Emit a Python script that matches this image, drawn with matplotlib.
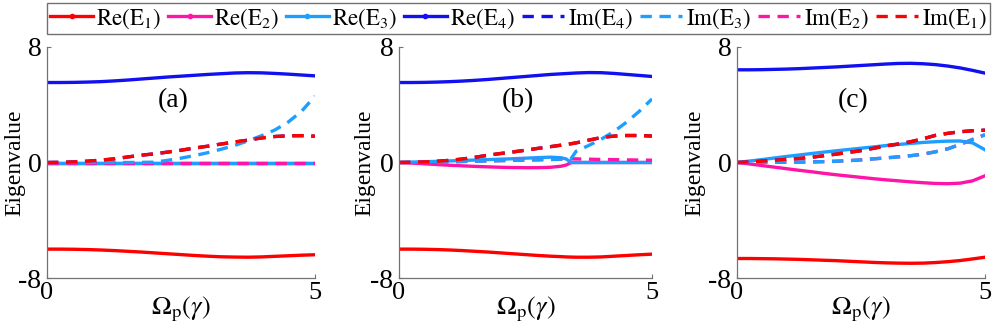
import matplotlib
matplotlib.use('Agg')
import matplotlib.pyplot as plt
from matplotlib.lines import Line2D

plt.rc('font', family='Liberation Serif')
plt.rc('mathtext', fontset='stix')

# ---- data ----
# panel (a)
x_a = [0, 0.25, 0.5, 0.75, 1, 1.25, 1.5, 1.75, 2, 2.25, 2.5, 2.75, 3, 3.25, 3.5, 3.75, 4, 4.25, 4.5, 4.75, 5]
re1_a = [-6.00, -6.00, -6.01, -6.03, -6.06, -6.10, -6.15, -6.20, -6.26, -6.32, -6.38, -6.44, -6.49, -6.53, -6.55, -6.56, -6.54, -6.50, -6.46, -6.42, -6.39]
re2_a = [0.0] * 21
re3_a = [0.0] * 21
re4_a = [5.54, 5.54, 5.55, 5.57, 5.60, 5.65, 5.71, 5.78, 5.85, 5.92, 5.98, 6.04, 6.10, 6.15, 6.20, 6.22, 6.21, 6.17, 6.12, 6.06, 6.00]
im1_a = [0, 0.01, 0.04, 0.09, 0.16, 0.25, 0.38, 0.50, 0.60, 0.72, 0.85, 1.00, 1.13, 1.28, 1.42, 1.55, 1.70, 1.80, 1.85, 1.86, 1.82]
im2_a = [0.0] * 21
im3_a = [0, 0, 0, 0, 0, 0, 0, 0.01, 0.02, 0.15, 0.30, 0.48, 0.68, 0.92, 1.18, 1.50, 1.85, 2.25, 2.80, 3.55, 4.60]
im4_a = im1_a

# panel (b)
x_b = [0, 0.25, 0.5, 0.75, 1, 1.25, 1.5, 1.75, 2, 2.25, 2.5, 2.75, 3, 3.2, 3.3, 3.4, 3.5, 3.75, 4, 4.25, 4.5, 4.75, 5]
re1_b = [-6.00, -6.00, -6.01, -6.03, -6.06, -6.10, -6.15, -6.20, -6.26, -6.32, -6.38, -6.44, -6.49, -6.52, -6.54, -6.55, -6.56, -6.56, -6.54, -6.49, -6.44, -6.39, -6.35]
re2_b = [0, -0.04, -0.09, -0.14, -0.19, -0.23, -0.27, -0.30, -0.33, -0.35, -0.36, -0.36, -0.33, -0.26, -0.18, -0.01, 0, 0, 0, 0, 0, 0, 0]
re3_b = [0, 0.03, 0.05, 0.08, 0.11, 0.14, 0.17, 0.20, 0.23, 0.26, 0.30, 0.34, 0.37, 0.33, 0.25, 0.01, 0, 0, 0, 0, 0, 0, 0]
re4_b = [5.54, 5.54, 5.55, 5.57, 5.60, 5.64, 5.69, 5.75, 5.82, 5.89, 5.96, 6.03, 6.10, 6.14, 6.16, 6.18, 6.20, 6.23, 6.22, 6.17, 6.10, 6.03, 5.96]
im1_b = [0, 0.01, 0.04, 0.08, 0.15, 0.24, 0.36, 0.50, 0.62, 0.73, 0.85, 0.98, 1.10, 1.20, 1.26, 1.30, 1.36, 1.55, 1.73, 1.83, 1.87, 1.87, 1.83]
im2_b = [0, 0.01, 0.02, 0.04, 0.05, 0.07, 0.09, 0.11, 0.13, 0.15, 0.17, 0.19, 0.21, 0.23, 0.24, 0.26, 0.25, 0.23, 0.21, 0.20, 0.18, 0.17, 0.16]
im3_b = [0, 0.01, 0.02, 0.04, 0.05, 0.07, 0.09, 0.11, 0.13, 0.15, 0.17, 0.19, 0.21, 0.23, 0.24, 0.26, 0.78, 1.18, 1.62, 2.15, 2.80, 3.55, 4.40]
im4_b = im1_b

# panel (c)
x_c = [0, 0.25, 0.5, 0.75, 1, 1.25, 1.5, 1.75, 2, 2.25, 2.5, 2.75, 3, 3.25, 3.5, 3.75, 4, 4.25, 4.5, 4.75, 5]
re1_c = [-6.65, -6.65, -6.66, -6.67, -6.69, -6.71, -6.74, -6.77, -6.80, -6.84, -6.88, -6.92, -6.95, -6.97, -6.98, -6.97, -6.93, -6.87, -6.79, -6.68, -6.56]
re2_c = [0, -0.10, -0.21, -0.32, -0.43, -0.54, -0.64, -0.75, -0.85, -0.94, -1.03, -1.12, -1.20, -1.27, -1.34, -1.40, -1.45, -1.47, -1.43, -1.27, -0.92]
re3_c = [0, 0.10, 0.20, 0.31, 0.42, 0.52, 0.62, 0.72, 0.81, 0.90, 0.99, 1.08, 1.17, 1.25, 1.32, 1.39, 1.44, 1.48, 1.49, 1.36, 0.88]
re4_c = [6.42, 6.42, 6.43, 6.45, 6.47, 6.50, 6.54, 6.58, 6.62, 6.67, 6.72, 6.77, 6.82, 6.86, 6.87, 6.84, 6.78, 6.68, 6.55, 6.38, 6.19]
im1_c = [0, 0.04, 0.09, 0.15, 0.22, 0.28, 0.36, 0.47, 0.58, 0.70, 0.82, 0.98, 1.15, 1.28, 1.44, 1.64, 1.88, 2.02, 2.13, 2.20, 2.24]
im3_c = [0, 0, 0.01, 0.01, 0.02, 0.03, 0.04, 0.06, 0.09, 0.13, 0.18, 0.25, 0.32, 0.39, 0.47, 0.58, 0.74, 0.95, 1.25, 1.60, 1.92]
im2_c = im3_c
im4_c = im1_c

panel_tags = ['(a)', '(b)', '(c)']
labels = [r'$\mathrm{Re(E_1)}$', r'$\mathrm{Re(E_2)}$', r'$\mathrm{Re(E_3)}$', r'$\mathrm{Re(E_4)}$',
          r'$\mathrm{Im(E_4)}$', r'$\mathrm{Im(E_3)}$', r'$\mathrm{Im(E_2)}$', r'$\mathrm{Im(E_1)}$']

c1 = '#FF0000'
c2 = '#FF14A8'
c3 = '#1E9EFF'
c4 = '#1010F0'
lw = 2.4
dash = (0, (3.4, 2.3))

panels = [
    (x_a, re1_a, re2_a, re3_a, re4_a, im1_a, im2_a, im3_a, im4_a),
    (x_b, re1_b, re2_b, re3_b, re4_b, im1_b, im2_b, im3_b, im4_b),
    (x_c, re1_c, re2_c, re3_c, re4_c, im1_c, im2_c, im3_c, im4_c),
]

W, H = 997, 328
fig = plt.figure(figsize=(W / 100, H / 100), dpi=100)

# axes boxes in pixels: left, right ; shared top/bottom
boxes = [(47, 315), (399, 652), (737, 985)]
top_px, bot_px = 47, 278
ylab_x = [-0.082, -0.095, -0.128]

for i, (x, r1, r2, r3, r4, i1, i2, i3, i4) in enumerate(panels):
    l, r = boxes[i]
    ax = fig.add_axes([l / W, 1 - bot_px / H, (r - l) / W, (bot_px - top_px) / H])
    ax.plot(x, r1, color=c1, lw=lw)
    ax.plot(x, r2, color=c2, lw=lw)
    ax.plot(x, r3, color=c3, lw=lw)
    ax.plot(x, r4, color=c4, lw=lw)
    ax.plot(x, i4, color=c4, lw=lw, ls=dash)
    ax.plot(x, i2, color=c2, lw=lw, ls=dash)
    ax.plot(x, i3, color=c3, lw=lw, ls=dash)
    ax.plot(x, i1, color=c1, lw=lw, ls=dash)

    ax.set_xlim(0, 5)
    ax.set_ylim(-8, 8)
    ax.set_xticks([0, 5])
    ax.set_yticks([-8, 0, 8])
    ax.set_yticklabels(['-8', '0', '8'])
    for s in ['top', 'right']:
        ax.spines[s].set_visible(False)
    for s in ['left', 'bottom']:
        ax.spines[s].set_color('0.45')
        ax.spines[s].set_linewidth(0.9)
    ax.tick_params(direction='in', length=3, width=0.8, color='0.45', labelsize=20)
    ax.tick_params(axis='x', pad=3, labelsize=19)
    ax.tick_params(axis='y', pad=4)
    ax.set_ylabel('Eigenvalue', fontsize=17)
    ax.yaxis.set_label_coords(ylab_x[i], 0.5)
    ax.set_xlabel(r'$\Omega_{\mathrm{p}}(\gamma)$', fontsize=19)
    ax.xaxis.set_label_coords(0.5, -0.07)
    ax.text(0.47, 0.77, panel_tags[i], transform=ax.transAxes, fontsize=20,
            ha='center', va='center')

handles = [
    Line2D([], [], color=c1, lw=lw, marker='o', ms=3),
    Line2D([], [], color=c2, lw=lw, marker='o', ms=3),
    Line2D([], [], color=c3, lw=lw, marker='o', ms=3),
    Line2D([], [], color=c4, lw=lw, marker='o', ms=3),
    Line2D([], [], color=c4, lw=lw, ls=dash),
    Line2D([], [], color=c3, lw=lw, ls=dash),
    Line2D([], [], color=c2, lw=lw, ls=dash),
    Line2D([], [], color=c1, lw=lw, ls=dash),
]
leg = fig.legend(handles, labels, loc='center', ncol=8, mode='expand',
                 bbox_to_anchor=(47 / W, 1 - 34 / H, (990 - 47) / W, 31 / H),
                 fontsize=16.5, frameon=True, fancybox=False, borderaxespad=0,
                 handlelength=1.85, handletextpad=0.15, borderpad=0.15,
                 columnspacing=0.5)
leg.get_frame().set_edgecolor('0.3')
leg.get_frame().set_linewidth(1.0)

fig.savefig('out.png', dpi=100)
